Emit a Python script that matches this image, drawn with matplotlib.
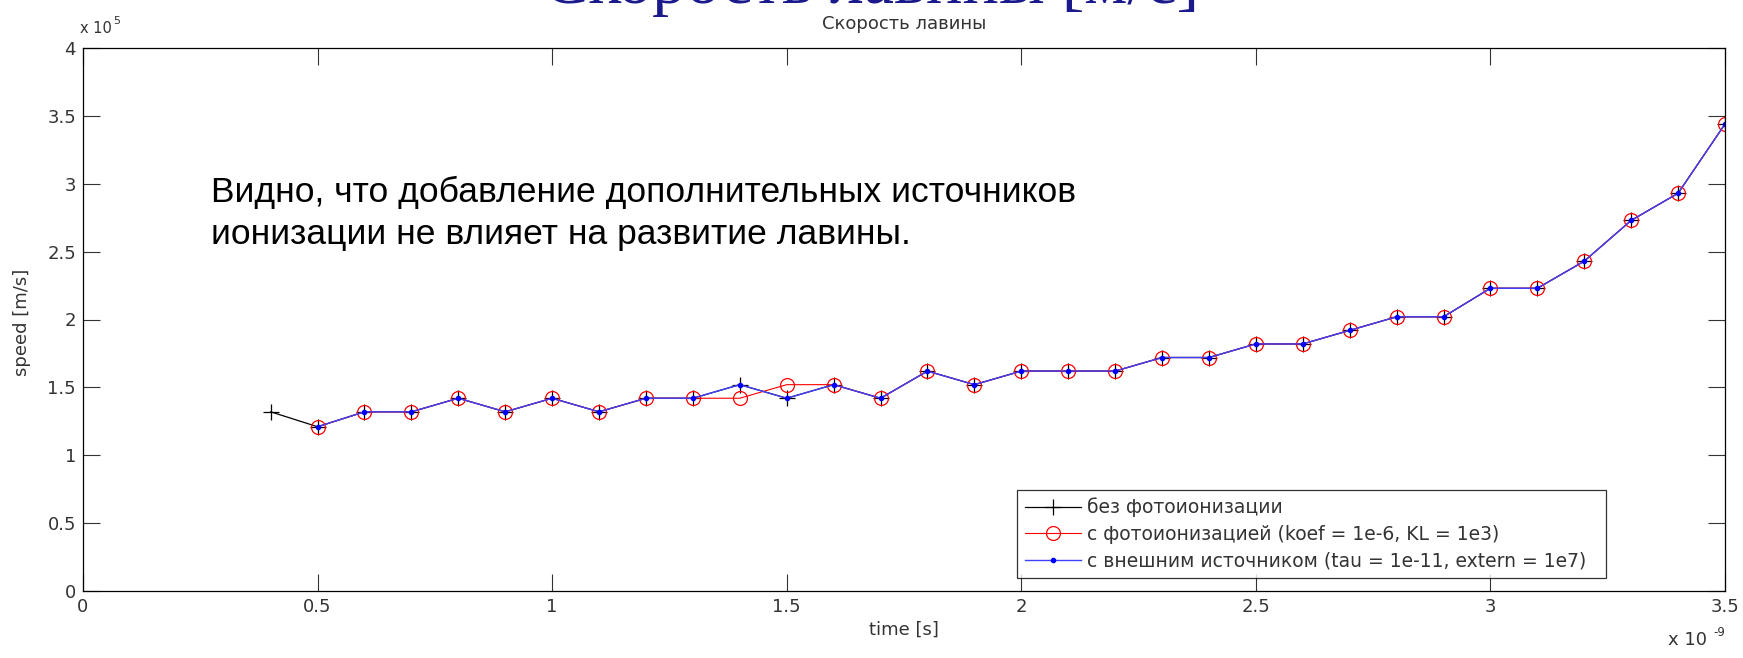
import matplotlib.pyplot as plt

# time in units of 1e-9 s, speed in units of 1e5 m/s
t_black = [0.4, 0.5, 0.6, 0.7, 0.8, 0.9, 1.0, 1.1, 1.2, 1.3, 1.4, 1.5, 1.6, 1.7, 1.8, 1.9,
           2.0, 2.1, 2.2, 2.3, 2.4, 2.5, 2.6, 2.7, 2.8, 2.9, 3.0, 3.1, 3.2, 3.3, 3.4, 3.5]
v_black = [1.32, 1.21, 1.32, 1.32, 1.42, 1.32, 1.42, 1.32, 1.42, 1.42, 1.52, 1.42, 1.52, 1.42,
           1.62, 1.52, 1.62, 1.62, 1.62, 1.72, 1.72, 1.82, 1.82, 1.92, 2.02, 2.02, 2.23, 2.23,
           2.43, 2.73, 2.93, 3.44]

t_red = t_black[1:]
v_red = [1.21, 1.32, 1.32, 1.42, 1.32, 1.42, 1.32, 1.42, 1.42, 1.42, 1.52, 1.52, 1.42,
         1.62, 1.52, 1.62, 1.62, 1.62, 1.72, 1.72, 1.82, 1.82, 1.92, 2.02, 2.02, 2.23, 2.23,
         2.43, 2.73, 2.93, 3.44]

t_blue = t_black[1:]
v_blue = v_black[1:]

x_ticks = [0, 0.5, 1, 1.5, 2, 2.5, 3, 3.5]
x_tick_labels = ['0', '0.5', '1', '1.5', '2', '2.5', '3', '3.5']
y_ticks = [0, 0.5, 1, 1.5, 2, 2.5, 3, 3.5, 4]
y_tick_labels = ['0', '0.5', '1', '1.5', '2', '2.5', '3', '3.5', '4']

labels = ['без фотоионизации',
          'с фотоионизацией (koef = 1e-6, KL = 1e3)',
          'с внешним источником (tau = 1e-11, extern = 1e7)']

plt.rcParams['font.family'] = ['DejaVu Sans']
grey = '#333333'

W, H = 1743, 658
fig = plt.figure(figsize=(W / 100, H / 100), dpi=100)
fig.patch.set_facecolor('white')

ax = fig.add_axes([83 / W, 1 - 591 / H, (1725 - 83) / W, (591 - 48) / H])

ax.plot(t_black, v_black, color='black', lw=0.9, marker='+', ms=11, mew=0.9, label=labels[0])
ax.plot(t_red, v_red, color='#ff0000', lw=0.8, marker='o', ms=10, mfc='none', mew=0.9,
        label=labels[1])
ax.plot(t_blue, v_blue, color='#4040ff', lw=1.0, marker='.', ms=6, mfc='#0000ff',
        mec='#0000ff', label=labels[2])

ax.set_xlim(0, 3.5)
ax.set_ylim(0, 4)
ax.set_xticks(x_ticks)
ax.set_xticklabels(x_tick_labels)
ax.set_yticks(y_ticks)
ax.set_yticklabels(y_tick_labels)
ax.tick_params(direction='in', length=12, width=0.8, color='#333333', labelsize=13,
               labelcolor=grey, top=True, right=True, pad=5)
for s in ax.spines.values():
    s.set_linewidth(0.9)
    s.set_color('black')

leg = ax.legend(loc='lower left', bbox_to_anchor=(0.569, 0.024, 0.3585, 0.195), mode='expand',
                fontsize=13.5, frameon=True, fancybox=False, handlelength=3.0,
                borderaxespad=0, labelspacing=0.4, handletextpad=0.3)
leg.get_frame().set_edgecolor('black')
leg.get_frame().set_linewidth(0.9)
for txt in leg.get_texts():
    txt.set_color(grey)

# labels and multipliers
fig.text(22 / W, 1 - 322 / H, 'speed [m/s]', rotation=90, ha='center', va='center',
         fontsize=13, color=grey)
fig.text(904 / W, 1 - 630 / H, 'time [s]', ha='center', va='center', fontsize=13, color=grey)
fig.text(904 / W, 1 - 24 / H, 'Скорость лавины', ha='center', va='center', fontsize=13,
         color=grey)
fig.text(80 / W, 1 - 33 / H, 'x 10', ha='left', va='baseline', fontsize=10.5, color=grey)
fig.text(113 / W, 1 - 24 / H, '5', ha='left', va='baseline', fontsize=8, color=grey)
fig.text(1668 / W, 1 - 645 / H, 'x 10', ha='left', va='baseline', fontsize=13, color=grey)
fig.text(1713 / W, 1 - 636 / H, '-9', ha='left', va='baseline', fontsize=8.5, color=grey)

# big slide title, cut off at the top
fig.text(0.5, 1 - 3 / H, 'Скорость лавины [м/с]', ha='center', va='baseline', fontsize=49,
         family=['Liberation Serif', 'DejaVu Serif'], color='#1a1a8c')

# annotation
ax.text(211 / W, 1 - 176 / H, 'Видно, что добавление дополнительных источников\n'
        'ионизации не влияет на развитие лавины.', transform=fig.transFigure,
        ha='left', va='top', fontsize=25.5, family=['Liberation Sans', 'DejaVu Sans'],
        color='black', linespacing=1.35)

fig.savefig('out.png', dpi=100, facecolor='white')
